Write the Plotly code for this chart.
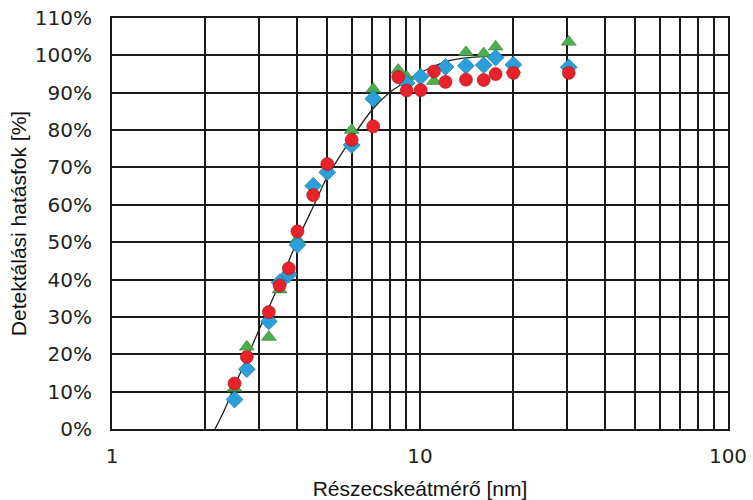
import plotly.graph_objects as go

# Particle diameter [nm] and detection efficiency [%]
red_x = [2.5, 2.74, 3.23, 3.5, 3.75, 4.0, 4.5, 5.0, 6.0, 7.05, 8.5, 9.05, 10.05, 11.1, 12.1, 14.1, 16.1, 17.6, 20.1, 30.4]
red_y = [12.2, 19.3, 31.3, 38.4, 43.0, 52.9, 62.6, 70.9, 77.4, 81.0, 94.2, 90.6, 90.7, 95.7, 92.9, 93.5, 93.4, 95.0, 95.3, 95.3]

blue_x = [2.5, 2.74, 3.23, 3.5, 3.75, 4.0, 4.5, 5.0, 6.0, 7.05, 9.05, 10.05, 12.1, 14.1, 16.1, 17.6, 20.1, 30.4]
blue_y = [7.9, 16.0, 28.8, 39.2, 41.4, 49.3, 65.1, 68.7, 76.0, 88.4, 92.6, 94.3, 96.9, 97.2, 97.4, 99.4, 97.5, 96.8]

green_x = [2.5, 2.74, 3.23, 3.5, 4.0, 6.0, 7.05, 8.5, 9.05, 11.1, 14.1, 16.1, 17.6, 20.1, 30.4]
green_y = [11.0, 22.0, 24.6, 37.3, 50.7, 80.0, 91.0, 96.1, 94.3, 93.1, 100.8, 100.5, 102.3, 96.2, 103.6]

# fitted curve
fit_x = [2.16, 2.3, 2.5, 2.74, 3.0, 3.5, 4.0, 4.5, 5.0, 6.0, 7.0, 8.0, 9.0, 10.0, 12.0, 14.0, 17.0, 20.0, 30.0, 100.0]
fit_y = [0.0, 4.5, 11.5, 19.0, 26.5, 39.0, 50.5, 59.5, 67.5, 77.8, 85.5, 90.2, 93.0, 95.3, 98.2, 99.3, 99.8, 100.0, 100.0, 100.0]

x_tick_vals = [1, 2, 3, 4, 5, 6, 7, 8, 9, 10, 20, 30, 40, 50, 60, 70, 80, 90, 100]
x_tick_text = ["1", "", "", "", "", "", "", "", "", "10", "", "", "", "", "", "", "", "", "100"]
y_tick_vals = [0, 10, 20, 30, 40, 50, 60, 70, 80, 90, 100, 110]
y_tick_text = ["0%", "10%", "20%", "30%", "40%", "50%", "60%", "70%", "80%", "90%", "100%", "110%"]

fig = go.Figure()
fig.add_trace(go.Scatter(x=fit_x, y=fit_y, mode="lines",
                         line=dict(color="#222222", width=1.3, shape="spline", smoothing=0.6),
                         showlegend=False, hoverinfo="skip"))
fig.add_trace(go.Scatter(x=green_x, y=green_y, mode="markers",
                         marker=dict(symbol="triangle-up", size=13, color="#4cae4c",
                                     line=dict(color="#3a7a3a", width=0.6)),
                         showlegend=False))
fig.add_trace(go.Scatter(x=blue_x, y=blue_y, mode="markers",
                         marker=dict(symbol="diamond", size=13, color="#2b9fd9",
                                     line=dict(color="#1d6f99", width=0.6)),
                         showlegend=False))
fig.add_trace(go.Scatter(x=red_x, y=red_y, mode="markers",
                         marker=dict(symbol="circle", size=13, color="#e8212b",
                                     line=dict(color="#9a1a1a", width=0.6)),
                         showlegend=False))

tick_font = dict(family="DejaVu Sans, sans-serif", size=20, color="#222222")
title_font = dict(family="Liberation Sans Narrow, Arial Narrow, Liberation Sans, sans-serif", size=21, color="#111111")

fig.update_layout(
    width=753, height=500,
    margin=dict(l=112, r=25, t=18, b=71),
    paper_bgcolor="white", plot_bgcolor="white",
    xaxis=dict(type="log", range=[0, 2], tickmode="array", tickvals=x_tick_vals, ticktext=x_tick_text,
               showgrid=True, gridcolor="#1a1a1a", gridwidth=2,
               showline=True, linecolor="#1a1a1a", linewidth=2, mirror=True,
               zeroline=False, ticks="", tickfont=tick_font, ticklabelstandoff=8,
               automargin=False,
               title=dict(text="Részecskeátmérő [nm]", font=title_font, standoff=18)),
    yaxis=dict(range=[0, 110], tickmode="array", tickvals=y_tick_vals, ticktext=y_tick_text,
               showgrid=True, gridcolor="#1a1a1a", gridwidth=2,
               showline=True, linecolor="#1a1a1a", linewidth=2, mirror=True,
               zeroline=False, ticks="", tickfont=tick_font, ticklabelstandoff=14,
               automargin=False,
               title=dict(text="Detektálási hatásfok [%]", font=title_font, standoff=2)),
)

fig.write_html("out.html")
